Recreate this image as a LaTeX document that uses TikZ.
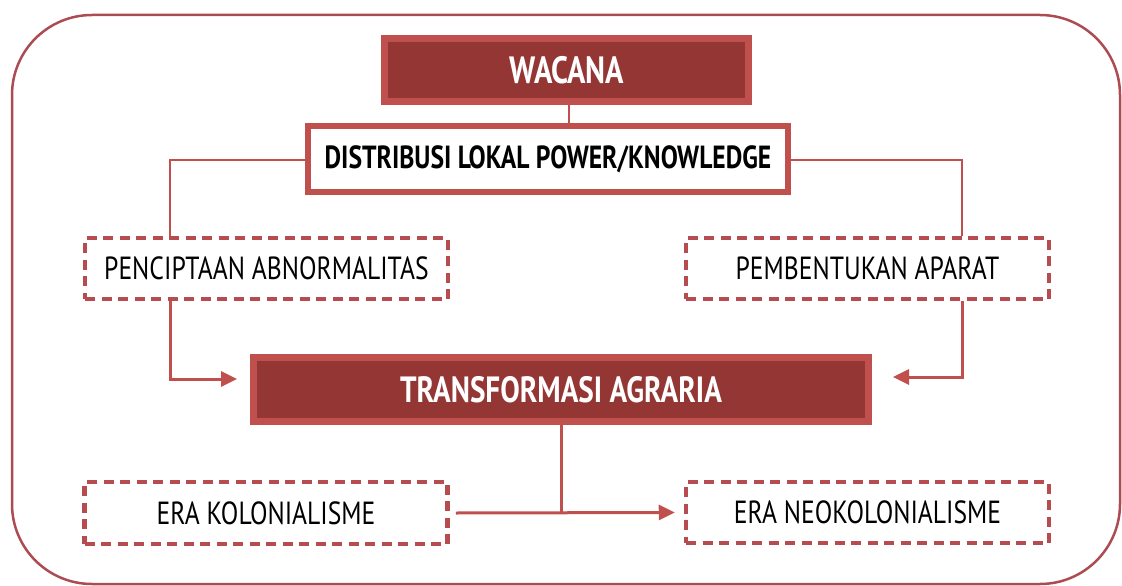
\documentclass[tikz,border=0pt]{standalone}
\usepackage{fontspec}
\setmainfont{PT Sans}[FakeStretch=0.8]
\usetikzlibrary{arrows.meta,calc}
\definecolor{frame}{RGB}{172,76,82}
\definecolor{lightred}{RGB}{192,80,77}
\definecolor{darkred}{RGB}{148,54,52}
\definecolor{dashred}{RGB}{183,76,80}
\begin{document}
\begin{tikzpicture}[x=1pt,y=-1pt,
  solidbox/.style={draw=lightred, line width=7pt, fill=darkred, inner sep=0pt,
    text=white, font=\fontsize{36.5}{40}\selectfont\bfseries},
  whitebox/.style={draw=lightred, line width=6.5pt, fill=white, inner sep=0pt,
    font=\fontsize{32}{36}\selectfont\bfseries},
  dashbox/.style={draw=dashred, line width=4.5pt, dash pattern=on 10pt off 6.5pt,
    inner sep=0pt, minimum width=363pt, minimum height=61pt,
    font=\fontsize{32}{36}\selectfont},
  conn/.style={draw=lightred, line width=3pt},
  thin/.style={draw=lightred, line width=2pt},
  arr/.style={-{Triangle[length=16pt,width=15pt]}}
]
\useasboundingbox (0,0) rectangle (1122,586);
\draw[frame, line width=2.5pt, rounded corners=80pt] (12,15) rectangle (1120,584);

\node[solidbox, minimum width=364pt, minimum height=63pt, font=\fontsize{38}{40}\selectfont\bfseries] (W) at (566.5,70) {WACANA};
\node[whitebox, minimum width=480pt, minimum height=66pt] (D) at (548,159) {DISTRIBUSI LOKAL POWER/KNOWLEDGE};
\node[dashbox] (P) at (266.5,268.5) {PENCIPTAAN ABNORMALITAS};
\node[dashbox] (A) at (867.5,268.5) {PEMBENTUKAN APARAT};
\node[solidbox, minimum width=615pt, minimum height=64pt] (T) at (561,389.5) {TRANSFORMASI AGRARIA};
\node[dashbox, minimum height=62pt] (K) at (266,513) {ERA KOLONIALISME};
\node[dashbox] (N) at (867.5,512.5) {ERA NEOKOLONIALISME};

\coordinate (lx) at (170,160);
\coordinate (rx) at (962,160);
\coordinate (la) at (237,379);
\coordinate (ra) at (893,377);
\coordinate (wx) at (569,0);

\draw[thin] (W.south -| wx) -- (D.north -| wx);
\draw[thin] (D.west |- lx) -- (lx) -- (P.north -| lx);
\draw[thin] (D.east |- rx) -- (rx) -- (A.north -| rx);
\draw[conn, arr] (P.south -| lx) |- (la);
\draw[conn, arr] (A.south -| rx) |- (ra);
\draw[conn] (T.south) -- (T.south |- K.east);
\draw[conn, arr] ([xshift=6pt]K.east) -- ([xshift=-9pt]N.west);
\end{tikzpicture}
\end{document}
